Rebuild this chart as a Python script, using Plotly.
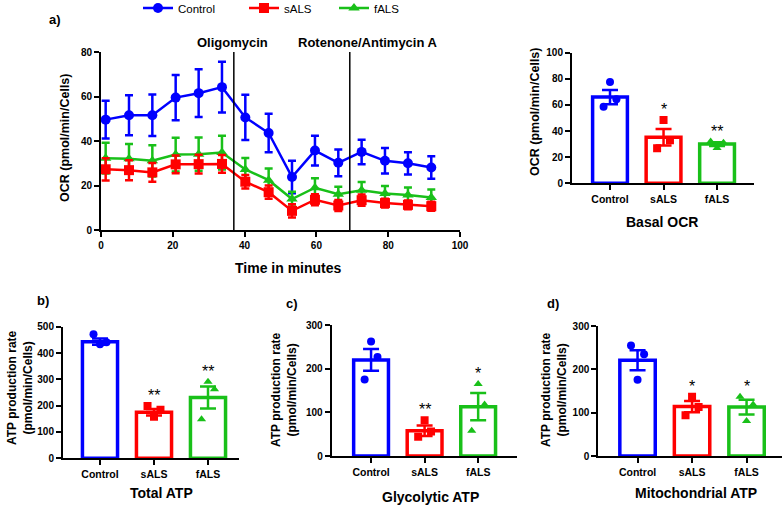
import plotly.graph_objects as go

# ---------------- data ----------------
groups = ["Control", "sALS", "fALS"]

time_min = [1.3, 7.8, 14.3, 20.8, 27.2, 33.7, 40.2, 46.7, 53.2, 59.6, 66.1, 72.6, 79.1, 85.5, 92.0]
ocr_control = [49.6, 51.6, 51.6, 59.5, 61.5, 64.2, 50.6, 43.6, 23.8, 35.7, 30.2, 35.1, 31.1, 30.0, 28.1]
sem_control = [8.5, 9.0, 9.3, 10.2, 10.7, 11.4, 10.2, 8.7, 7.3, 6.7, 6.0, 5.5, 5.7, 5.0, 5.1]
ocr_sals = [27.3, 26.9, 25.9, 29.5, 29.6, 29.7, 21.7, 17.0, 8.6, 13.6, 11.0, 13.4, 12.1, 11.3, 10.7]
sem_sals = [5.0, 4.5, 4.2, 4.0, 4.2, 4.0, 3.0, 3.0, 3.0, 2.5, 2.5, 2.5, 2.0, 2.0, 2.0]
ocr_fals = [32.3, 32.0, 31.1, 33.9, 34.1, 34.8, 27.2, 22.4, 13.9, 19.0, 16.1, 17.9, 16.4, 15.7, 14.6]
sem_fals = [6.9, 6.6, 7.0, 7.6, 7.5, 7.6, 5.2, 5.2, 3.3, 4.3, 3.3, 3.7, 3.4, 3.4, 3.6]

injections = [37.0, 69.3]
injection_labels = ["Oligomycin", "Rotenone/Antimycin A"]

basal_mean = [66.0, 35.2, 30.0]
basal_sem = [5.5, 6.3, 1.5]
basal_points = [[58.7, 77.5, 64.3], [26.8, 48.4, 33.0], [32.0, 27.0, 31.0]]
basal_stars = ["", "*", "**"]

total_mean = [443, 175, 231]
total_sem = [12, 12, 42]
total_points = [[471, 433, 441], [199, 158, 184], [148, 291, 262]]
total_stars = ["", "**", "**"]

glyco_mean = [220, 58, 113]
glyco_sem = [25, 12, 31]
glyco_points = [[175, 262, 227], [44, 82, 56], [58, 165, 118]]
glyco_stars = ["", "**", "*"]

mito_mean = [221, 114, 113]
mito_sem = [23, 13, 17]
mito_points = [[255, 176, 235], [94, 137, 113], [137, 81, 119]]
mito_stars = ["", "*", "*"]

# ---------------- style ----------------
W, H = 782, 506
COLORS = ["#0000ff", "#ff0000", "#19c019"]
SYMBOLS = ["circle", "square", "triangle-up"]
JITTER = [-0.12, 0.0, 0.12]
FONT = "Liberation Sans, Arial, sans-serif"


def px(x):
    return x / W


def py(y):
    return 1 - y / H


fig = go.Figure()

# ---------------- panel a: OCR time course ----------------
series = [
    ("Control", ocr_control, sem_control, 0, "legend"),
    ("fALS", ocr_fals, sem_fals, 2, "legend3"),
    ("sALS", ocr_sals, sem_sals, 1, "legend2"),
]
for name, vals, sems, ci, leg in series:
    fig.add_trace(go.Scatter(
        x=time_min, y=vals, name=name, mode="lines+markers",
        line=dict(color=COLORS[ci], width=2.5),
        marker=dict(symbol=SYMBOLS[ci], size=10, color=COLORS[ci]),
        error_y=dict(type="data", array=sems, color=COLORS[ci], thickness=2.5, width=4),
        xaxis="x", yaxis="y", legend=leg, showlegend=True,
    ))

for t in injections:
    fig.add_shape(type="line", x0=t, x1=t, y0=0, y1=80, xref="x", yref="y",
                  line=dict(color="black", width=1.5))

# ---------------- bar panels ----------------
panels = [
    ("2", basal_mean, basal_sem, basal_points, basal_stars),
    ("3", total_mean, total_sem, total_points, total_stars),
    ("4", glyco_mean, glyco_sem, glyco_points, glyco_stars),
    ("5", mito_mean, mito_sem, mito_points, mito_stars),
]
for ax, means, sems, pts, stars in panels:
    for i in range(3):
        fig.add_trace(go.Bar(
            x=[i], y=[means[i]], width=0.65,
            marker=dict(color="white", line=dict(color=COLORS[i], width=3.5)),
            error_y=dict(type="data", array=[sems[i]], color=COLORS[i], thickness=2.5, width=8),
            xaxis="x" + ax, yaxis="y" + ax, showlegend=False,
        ))
        fig.add_trace(go.Scatter(
            x=[i + j for j in JITTER], y=pts[i], mode="markers",
            marker=dict(symbol=SYMBOLS[i], size=8, color=COLORS[i]),
            xaxis="x" + ax, yaxis="y" + ax, showlegend=False,
        ))
        if stars[i]:
            top = max(max(pts[i]), means[i] + sems[i])
            fig.add_annotation(x=i, y=top, xref="x" + ax, yref="y" + ax, text=stars[i],
                               showarrow=False, yanchor="bottom", yshift=0,
                               font=dict(family=FONT, size=16, color="black"))

# ---------------- axes ----------------
tickfont = dict(family=FONT, size=10, color="black", weight="bold")
catfont = dict(family=FONT, size=10.5, color="black", weight="bold")


def axis_style(**kw):
    d = dict(showline=True, linecolor="black", linewidth=2, ticks="outside", ticklen=5,
             tickwidth=2, tickcolor="black", showgrid=False, zeroline=False,
             tickfont=tickfont, fixedrange=True, automargin=False)
    d.update(kw)
    return d


layout = dict(
    width=W, height=H, margin=dict(l=0, r=0, t=0, b=0, autoexpand=False),
    paper_bgcolor="white", plot_bgcolor="white", barmode="overlay",
    font=dict(family=FONT, color="black"),
)
layout["xaxis"] = axis_style(domain=[px(101), px(460)], range=[0, 100], tickvals=[0, 20, 40, 60, 80, 100], anchor="y")
layout["yaxis"] = axis_style(domain=[py(230), py(52)], range=[0, 80], tickvals=[0, 20, 40, 60, 80], anchor="x")

bar_geo = {
    "2": dict(xd=(572, 754), yd=(183.3, 52.7), xr=[-0.71, 2.69], yr=[0, 100], ticks=[0, 20, 40, 60, 80, 100]),
    "3": dict(xd=(63, 239), yd=(458.3, 326.7), xr=[-0.685, 2.574], yr=[0, 500], ticks=[0, 100, 200, 300, 400, 500]),
    "4": dict(xd=(331.7, 516.7), yd=(456, 325), xr=[-0.735, 2.72], yr=[0, 300], ticks=[0, 100, 200, 300]),
    "5": dict(xd=(598.3, 782), yd=(456, 326), xr=[-0.72, 2.65], yr=[0, 300], ticks=[0, 100, 200, 300]),
}
for ax, g in bar_geo.items():
    layout["xaxis" + ax] = axis_style(domain=[px(g["xd"][0]), px(g["xd"][1])], range=g["xr"],
                                      tickvals=[0, 1, 2], ticktext=groups, tickfont=catfont,
                                      anchor="y" + ax)
    layout["yaxis" + ax] = axis_style(domain=[py(g["yd"][0]), py(g["yd"][1])], range=g["yr"],
                                      tickvals=g["ticks"], anchor="x" + ax)

# ---------------- legends ----------------
legfont = dict(family=FONT, size=11.5, color="black")
for key, xpos in [("legend", 138), ("legend2", 244), ("legend3", 334)]:
    layout[key] = dict(x=px(xpos), y=py(8), xanchor="left", yanchor="middle",
                       orientation="h", bgcolor="rgba(0,0,0,0)", font=legfont,
                       borderwidth=0, itemwidth=30)

fig.update_layout(**layout)

# ---------------- text annotations ----------------
def label(text, x, y, size=13, angle=0):
    fig.add_annotation(x=px(x), y=py(y), xref="paper", yref="paper", text=text,
                       showarrow=False, textangle=angle, xanchor="center", yanchor="middle",
                       font=dict(family=FONT, size=size, color="black", weight="bold"))

label("a)", 55, 19, 13)
label("b)", 43, 300, 13)
label("c)", 292, 303, 13)
label("d)", 553, 303, 13)
label(injection_labels[0], 232, 43, 13)
label(injection_labels[1], 368, 43, 13)
label("OCR (pmol/min/Cells)", 65, 138, 12.5, -90)
label("Time in minutes", 288, 268, 14)
label("OCR (pmol/min/Cells)", 535, 112, 12.5, -90)
label("Basal OCR", 662, 222, 14)
label("ATP production rate<br>(pmol/min/Cells)", 20, 388, 12, -90)
label("Total ATP", 161, 493, 14)
label("ATP production rate<br>(pmol/min/Cells)", 284, 390, 12, -90)
label("Glycolytic ATP", 430, 497, 14)
label("ATP production rate<br>(pmol/min/Cells)", 554, 390, 12, -90)
label("Mitochondrial ATP", 696, 493, 14)

fig.write_html(
    "out.html",
    config={"displayModeBar": False},
    post_script="document.body.style.margin='0';document.body.style.padding='0';"
                "document.body.style.overflow='hidden';",
)
